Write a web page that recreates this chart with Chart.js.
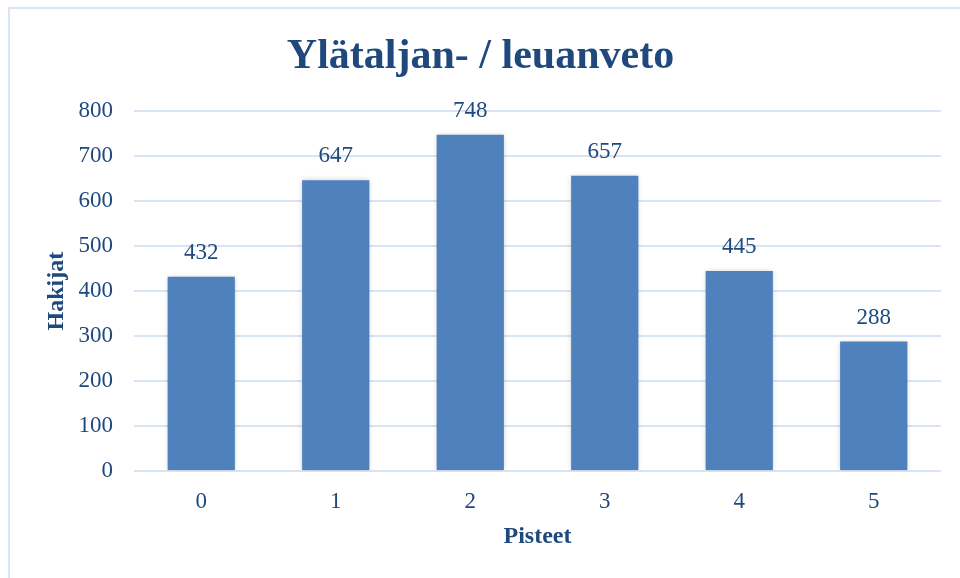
<!DOCTYPE html>
<html>
<head>
<meta charset="utf-8">
<script src="https://cdn.jsdelivr.net/npm/chart.js@4/dist/chart.umd.min.js"></script>
<style>
  html, body { margin: 0; padding: 0; background: #fff; }
  #frame {
    position: absolute; left: 8px; top: 7px; width: 980px; height: 600px;
    border: 2px solid #dae5f3; box-sizing: border-box;
  }
  canvas { position: absolute; left: 0; top: 0; }
</style>
</head>
<body>
<div id="frame"></div>
<canvas id="chart" width="960" height="578"></canvas>
<script>
const categories = ["0", "1", "2", "3", "4", "5"];
const hakijat = [432, 647, 748, 657, 445, 288];
const yTicks = [0, 100, 200, 300, 400, 500, 600, 700, 800];

const textColor = "#1f497d";
const serif = "'Liberation Serif', 'Times New Roman', serif";

// soft shadow round the bars
const barShadow = {
  id: "barShadow",
  beforeDatasetsDraw(chart) {
    const ctx = chart.ctx;
    ctx.save();
    ctx.shadowColor = "rgba(0, 0, 0, 0.22)";
    ctx.shadowBlur = 5;
  },
  afterDatasetsDraw(chart) {
    chart.ctx.restore();
  },
};

// value labels above the bars
const barLabels = {
  id: "barLabels",
  afterDatasetsDraw(chart) {
    const ctx = chart.ctx;
    const meta = chart.getDatasetMeta(0);
    ctx.save();
    ctx.font = "23px " + serif;
    ctx.fillStyle = textColor;
    ctx.textAlign = "center";
    ctx.textBaseline = "middle";
    meta.data.forEach((bar, i) => {
      ctx.fillText(hakijat[i], bar.x, bar.y - 24);
    });
    ctx.restore();
  },
};

new Chart(document.getElementById("chart"), {
  type: "bar",
  data: {
    labels: categories,
    datasets: [{
      data: hakijat,
      backgroundColor: "#4f81bd",
      borderWidth: 0,
      barPercentage: 0.5,
      categoryPercentage: 1,
    }],
  },
  options: {
    responsive: false,
    animation: false,
    layout: { padding: { left: 20, right: 19, top: 0, bottom: 24.6 } },
    plugins: {
      legend: { display: false },
      tooltip: { enabled: false },
      title: {
        display: true,
        text: "Ylätaljan- / leuanveto",
        color: textColor,
        font: { family: serif, size: 42, weight: "bold", lineHeight: 1.2 },
        padding: { top: 32, bottom: 29 },
      },
    },
    scales: {
      x: {
        afterFit: (scale) => { scale.height = 82.4; },
        grid: { display: false, drawTicks: false },
        border: { display: false },
        ticks: { color: textColor, font: { family: serif, size: 23 }, padding: 17 },
        title: {
          display: true,
          text: "Pisteet",
          color: textColor,
          font: { family: serif, size: 24, weight: "bold", lineHeight: 1.2 },
          padding: { top: 5, bottom: 2 },
        },
      },
      y: {
        min: 0,
        max: 800,
        afterBuildTicks: (scale) => {
          scale.ticks = yTicks.map((v) => ({ value: v }));
        },
        afterFit: (scale) => { scale.width = 114; },
        grid: { color: "#d9e4f2", lineWidth: 2, drawTicks: false },
        border: { display: false },
        ticks: { color: textColor, font: { family: serif, size: 23 }, padding: 21 },
        title: {
          display: true,
          text: "Hakijat",
          color: textColor,
          font: { family: serif, size: 24, weight: "bold", lineHeight: 1.2 },
          padding: { top: 22.6, bottom: 0 },
        },
      },
    },
  },
  plugins: [barShadow, barLabels],
});
</script>
</body>
</html>
